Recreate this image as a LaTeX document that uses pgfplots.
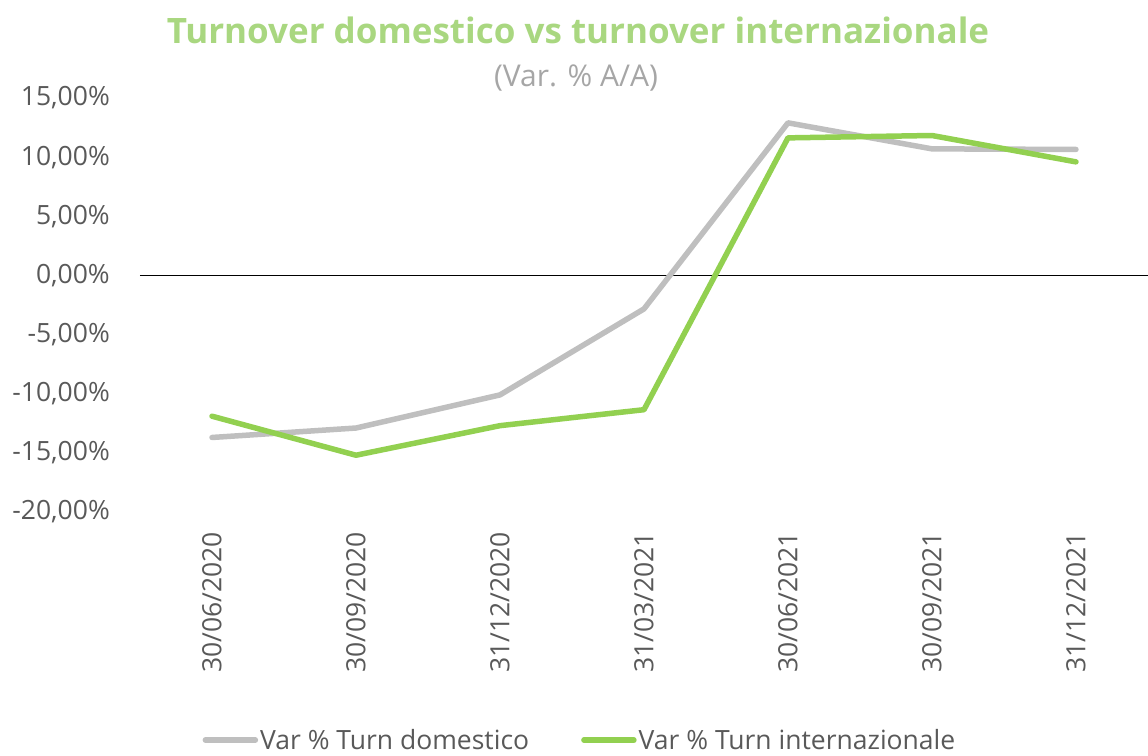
\documentclass[border=0pt]{standalone}
\usepackage{pgfplots}
\pgfplotsset{compat=1.18}
\usepackage{fontspec}
\setmainfont{Open Sans}
\definecolor{lgrey}{HTML}{BFBFBF}
\definecolor{lgreen}{HTML}{92D050}
\definecolor{tgreen}{HTML}{A9D780}
\definecolor{tickgrey}{HTML}{595959}
\definecolor{subgrey}{HTML}{A6A6A6}
\begin{document}
\begin{tikzpicture}
\begin{axis}[
  width=1008pt, height=414pt, scale only axis,
  xmin=-0.5, xmax=6.5, ymin=-20, ymax=15,
  clip=false,
  axis line style={draw=none},
  tick style={draw=none},
  xtick={0,1,2,3,4,5,6},
  xticklabels={30/06/2020,30/09/2020,31/12/2020,31/03/2021,30/06/2021,30/09/2021,31/12/2021},
  ytick={-20,-15,-10,-5,0,5,10,15},
  yticklabels={-20{,}00\%,-15{,}00\%,-10{,}00\%,-5{,}00\%,0{,}00\%,5{,}00\%,10{,}00\%,15{,}00\%},
  ticklabel style={font=\fontsize{26.5}{31}\selectfont, text=tickgrey, inner sep=0pt},
  yticklabel style={anchor=east},
  yticklabel shift={30pt},
  xticklabel style={rotate=90, anchor=east},
  xticklabel shift={20pt},
  extra y ticks={0},
  extra y tick labels={},
  extra y tick style={grid=major, major grid style={black, line width=1.3pt}},
  legend columns=2,
  legend style={at={(0.4365,-0.551)}, anchor=center, draw=none, fill=none,
    font=\fontsize{26.5}{31}\selectfont, text=tickgrey, inner sep=0pt,
    /tikz/every even column/.append style={column sep=50pt}},
  legend cell align=left,
  legend image code/.code={\draw[#1] (0pt,0pt) -- (50pt,0pt);},
]
\addplot[lgrey, line width=5.5pt, line join=round, line cap=round] coordinates {
(0,-13.7) (1,-12.9) (2,-10.1) (3,-2.83) (4,12.9) (5,10.7) (6,10.65)};
\addlegendentry{Var \% Turn domestico}
\addplot[lgreen, line width=5.5pt, line join=round, line cap=round] coordinates {
(0,-11.9) (1,-15.2) (2,-12.7) (3,-11.35) (4,11.63) (5,11.83) (6,9.6)};
\addlegendentry{Var \% Turn internazionale}
\end{axis}
\node[font=\fontsize{35}{40}\selectfont\bfseries, text=tgreen, anchor=center] at (438pt,482pt) {Turnover domestico vs turnover internazionale};
\node[font=\fontsize{30}{34}\selectfont, text=subgrey, anchor=center] at (436pt,434pt) {(Var. \% A/A)};
\pgfresetboundingbox
\useasboundingbox (-140pt,-243pt) rectangle (1008pt,512pt);
\end{tikzpicture}
\end{document}
